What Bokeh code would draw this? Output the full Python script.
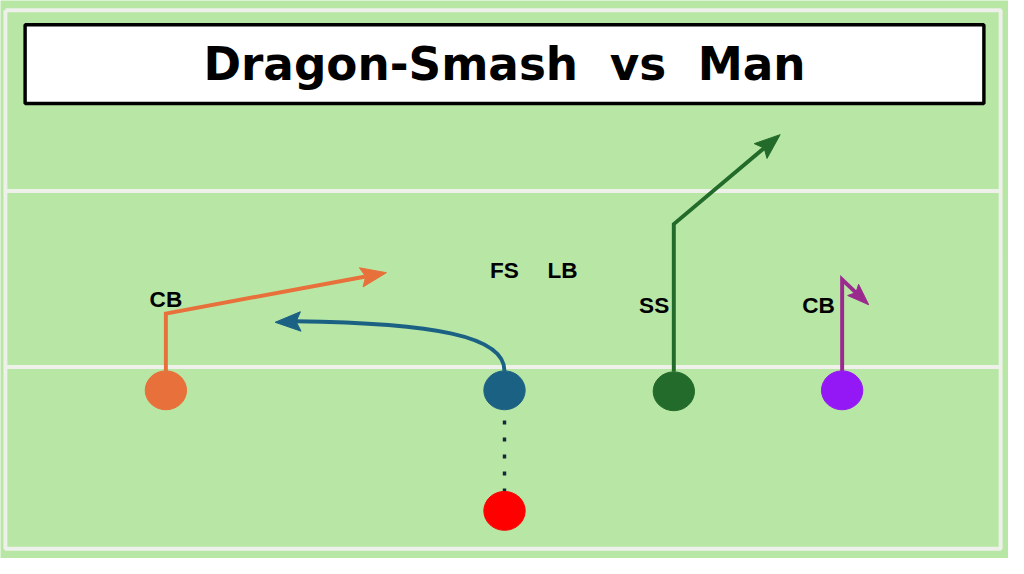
import math
from bokeh.plotting import figure
from bokeh.models import Range1d
from bokeh.core.properties import value
from bokeh.embed import file_html
from bokeh.resources import INLINE

# ---- data (reference pixel coordinates, y downward) ----
title_text = ["Dragon-Smash\u00a0\u00a0vs\u00a0\u00a0Man"]
title_pos_x = [512]
title_pos_y = [66]

player_x = [168, 512, 684, 855, 512]
player_y = [401, 401, 402, 401, 525]
player_colors = ["#e8703a", "#1b6184", "#236b2a", "#9418f5", "#ff0000"]

label_text = ["CB", "FS", "LB", "SS", "CB"]
label_x = [168, 512, 571, 664, 831]
label_y = [308, 278, 278, 314, 314]

orange_route_x = [168, 168, 392]
orange_route_y = [381, 322, 280]
green_route_x = [684, 684, 792]
green_route_y = [382, 230, 138]
purple_route_x = [855, 855, 882]
purple_route_y = [381, 287, 313]
blue_curve = dict(x0=[512], y0=[381], cx0=[512], cy0=[345], cx1=[440], cy1=[332], x1=[300], y1=[330])
blue_tip_x = [279]
blue_tip_y = [331]
snap_x = [512, 512]
snap_y = [432, 506]

field_x = [5, 1016]
field_y = [10, 564]
yard_lines_y = [196, 377]
title_box = dict(left=[25], right=[999], top=[25], bottom=[106])

W, H = 1008, 558
k = W / 1024.0

GREEN = "#b8e6a5"
WHITE_LINE = "#eef0ea"

p = figure(width=W, height=H, output_backend="svg", toolbar_location=None,
           x_range=Range1d(0, 1024), y_range=Range1d(574, 0), min_border=0)
p.axis.visible = False
p.grid.visible = False
p.outline_line_color = None
p.background_fill_color = GREEN
p.border_fill_color = GREEN

# field border and yard lines
p.line([field_x[0], field_x[1], field_x[1], field_x[0], field_x[0]],
       [field_y[0], field_y[0], field_y[1], field_y[1], field_y[0]],
       line_color=WHITE_LINE, line_width=4 * k)
for yl in yard_lines_y:
    p.line(field_x, [yl, yl], line_color=WHITE_LINE, line_width=4 * k)

# title box
p.quad(left=title_box["left"], right=title_box["right"], top=title_box["top"],
       bottom=title_box["bottom"], fill_color="white", line_color="black", line_width=3.5 * k)
p.text(x=title_pos_x, y=title_pos_y, text=title_text, text_align="center",
       text_baseline="middle", text_font=value("DejaVu Sans"),
       text_font_style="bold", text_font_size=f"{46 * k:.1f}px", text_color="black")


def head(x_from, y_from, x_tip, y_tip, length, width, color):
    dx, dy = x_tip - x_from, y_tip - y_from
    d = math.hypot(dx, dy)
    ux, uy = dx / d, dy / d
    nx, ny = -uy, ux
    bx, by = x_tip - length * ux, y_tip - length * uy
    mx, my = x_tip - 0.82 * length * ux, y_tip - 0.82 * length * uy
    xs = [x_tip, bx + nx * width / 2, mx, bx - nx * width / 2]
    ys = [y_tip, by + ny * width / 2, my, by - ny * width / 2]
    p.patch(xs, ys, fill_color=color, line_color=color, line_width=1)
    return mx, my


def route(xs, ys, color, length, width):
    mx, my = head(xs[-2], ys[-2], xs[-1], ys[-1], length, width, color)
    p.line(xs[:-1] + [mx], ys[:-1] + [my], line_color=color, line_width=4 * k,
           line_join="miter")


route(orange_route_x, orange_route_y, "#e8703a", 26, 20)
route(green_route_x, green_route_y, "#236b2a", 26, 20)
route(purple_route_x, purple_route_y, "#9b2a8f", 22, 16)

p.bezier(x0=blue_curve["x0"], y0=blue_curve["y0"], x1=blue_curve["x1"], y1=blue_curve["y1"],
         cx0=blue_curve["cx0"], cy0=blue_curve["cy0"], cx1=blue_curve["cx1"], cy1=blue_curve["cy1"],
         line_color="#1b6184", line_width=4 * k)
bmx, bmy = head(blue_curve["x1"][0] + 10, blue_curve["y1"][0], blue_tip_x[0], blue_tip_y[0],
                26, 20, "#1b6184")
p.line([blue_curve["x1"][0], bmx], [blue_curve["y1"][0], bmy], line_color="#1b6184", line_width=4 * k)

# snap (dotted)
p.line(snap_x, snap_y, line_color="#14283a", line_width=3.5 * k, line_dash="4 13")

# players
p.ellipse(x=player_x, y=player_y, width=42, height=40, fill_color=player_colors,
          line_color=player_colors)

# labels
p.text(x=label_x, y=label_y, text=label_text, text_align="center", text_baseline="middle",
       text_font=value("Liberation Sans"), text_font_style="bold",
       text_font_size=f"{23 * k:.1f}px", text_color="black")

open("out.html", "w").write(file_html(p, INLINE))
